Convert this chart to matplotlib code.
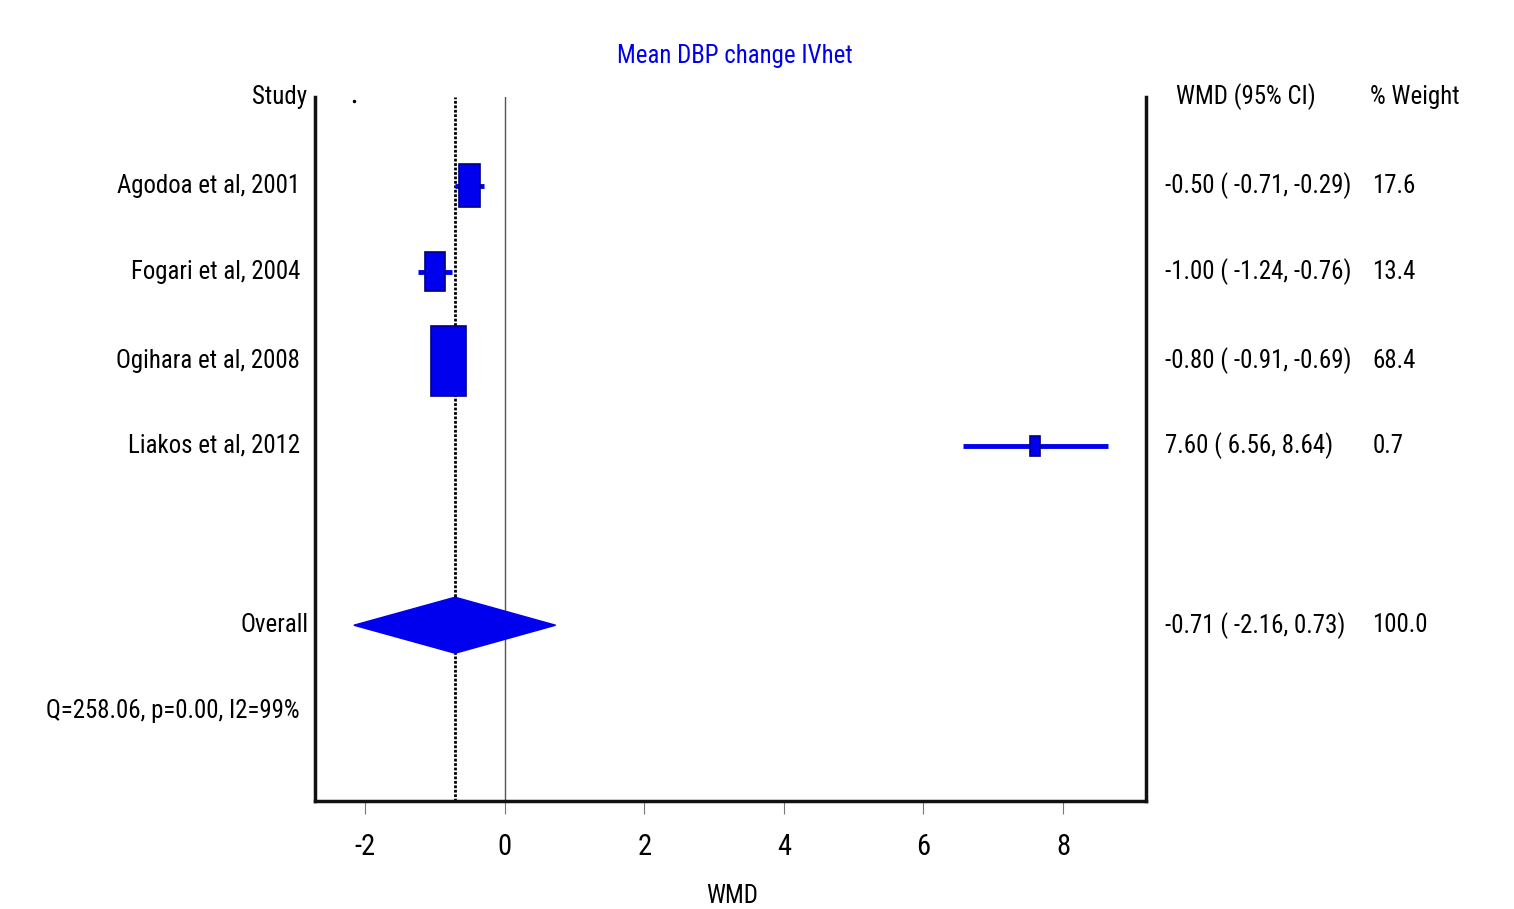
#!/usr/bin/env python3

import matplotlib
matplotlib.use('Agg')
from matplotlib import pyplot as plt
from matplotlib import font_manager
from matplotlib.patches import Rectangle, Polygon
import matplotlib.transforms as mtransforms

STUDIES = ['Agodoa et al, 2001', 'Fogari et al, 2004', 'Ogihara et al, 2008', 'Liakos et al, 2012']
WMD = [-0.50, -1.00, -0.80, 7.60]
LOWER = [-0.71, -1.24, -0.91, 6.56]
UPPER = [-0.29, -0.76, -0.69, 8.64]
WEIGHT = [17.6, 13.4, 68.4, 0.7]

OVERALL = -0.71
OVERALL_LOWER = -2.16
OVERALL_UPPER = 0.73
OVERALL_WEIGHT = 100.0
HET_TEXT = 'Q=258.06, p=0.00, I2=99%'

XTICKS = [-2, 0, 2, 4, 6, 8]

BLUE = '#0000ee'
PX_PER_UNIT_X = 69.8  # pixels per WMD unit
PX_PER_ROW = 87.0

# the reference uses a narrow font; take the narrowest one that is installed
families = {f.name for f in font_manager.fontManager.ttflist}
stretches = {(f.name, f.stretch) for f in font_manager.fontManager.ttflist}
FONT = 'Liberation Sans'
STRETCH = 'normal'
for name in ['Liberation Sans Narrow', 'Roboto Condensed', 'Open Sans Condensed',
             'Noto Sans Condensed', 'DejaVu Sans Condensed']:
    if name in families:
        FONT = name
        break
else:
    for name in ['Roboto', 'Noto Sans', 'Open Sans', 'DejaVu Sans']:
        if (name, 'condensed') in stretches or (name, 'semi-condensed') in stretches:
            FONT = name
            STRETCH = 'condensed'
            break
plt.rcParams['font.family'] = [FONT, 'DejaVu Sans']
plt.rcParams['font.stretch'] = STRETCH

fig = plt.figure(figsize=(15.14, 9.09), dpi=100)

# size the text so that a study label is about as wide as in the reference
probe = fig.text(0, 0, STUDIES[0], fontsize=20)
w = probe.get_window_extent(renderer=fig.canvas.get_renderer()).width
probe.remove()
fs = 20 * 167.0 / w * 1.1

ax = fig.add_axes([0.2081, 0.1188, 0.5489, 0.7745])
ax.set_xlim(-2.716, 9.19)
ax.set_ylim(8.09, 0)

rows = [1.02, 2.01, 3.03, 4.01]
overall_row = 6.07
het_row = 7.06

# reference lines
ax.axvline(0, color='#555555', lw=1.0, zorder=1)
ax.axvline(OVERALL, color='black', lw=2.0, ls=(0, (1, 0.6)), zorder=1)

for r, m, lo, hi, wt in zip(rows, WMD, LOWER, UPPER, WEIGHT):
    ax.plot([lo, hi], [r, r], color=BLUE, lw=3.5, solid_capstyle='butt', zorder=3)
    wpx = 7.2 + 3.37 * wt ** 0.5
    hw = wpx / PX_PER_UNIT_X / 2
    hh = wpx / PX_PER_ROW
    ax.add_patch(Rectangle((m - hw, r - hh), 2 * hw, 2 * hh, facecolor=BLUE,
                           edgecolor='#000080', lw=1.2, zorder=4))

dh = 28 / PX_PER_ROW
ax.add_patch(Polygon([(OVERALL_LOWER, overall_row), (OVERALL, overall_row - dh),
                      (OVERALL_UPPER, overall_row), (OVERALL, overall_row + dh)],
                     closed=True, facecolor=BLUE, edgecolor=BLUE, zorder=4))
ax.plot([OVERALL_LOWER], [0.05], marker='.', color='black', ms=3)

ax.spines['top'].set_visible(False)
for s in ['left', 'right', 'bottom']:
    ax.spines[s].set_linewidth(2.5)
    ax.spines[s].set_color('#111111')

ax.set_yticks([])
ax.set_xticks(XTICKS)
ax.set_xticklabels([str(t) for t in XTICKS], fontsize=fs * 1.15)
ax.tick_params(axis='x', length=9, width=0.8, color='#777777', pad=14)

trans = mtransforms.blended_transform_factory(ax.transAxes, ax.transData)
ax.text(-0.009, 0, 'Study', transform=trans, ha='right', va='center', fontsize=fs)
for r, name in zip(rows, STUDIES):
    ax.text(-0.018, r, name, transform=trans, ha='right', va='center', fontsize=fs)
ax.text(-0.008, overall_row, 'Overall', transform=trans, ha='right', va='center', fontsize=fs)
ax.text(-0.018, het_row, HET_TEXT, transform=trans, ha='right', va='center', fontsize=fs)

ax.text(1.036, 0, 'WMD (95% CI)', transform=trans, ha='left', va='center', fontsize=fs)
ax.text(1.27, 0, '% Weight', transform=trans, ha='left', va='center', fontsize=fs)
for r, m, lo, hi, wt in zip(rows, WMD, LOWER, UPPER, WEIGHT):
    ax.text(1.023, r, f'{m:.2f} ( {lo:.2f}, {hi:.2f})', transform=trans,
            ha='left', va='center', fontsize=fs)
    ax.text(1.272, r, f'{wt:.1f}', transform=trans, ha='left', va='center', fontsize=fs)
ax.text(1.023, overall_row, f'{OVERALL:.2f} ( {OVERALL_LOWER:.2f}, {OVERALL_UPPER:.2f})',
        transform=trans, ha='left', va='center', fontsize=fs)
ax.text(1.272, overall_row, f'{OVERALL_WEIGHT:.1f}', transform=trans, ha='left',
        va='center', fontsize=fs)

fig.text(0.4855, 0.938, 'Mean DBP change IVhet', color=BLUE, ha='center', va='center', fontsize=fs)
fig.text(0.4835, 0.014, 'WMD', ha='center', va='center', fontsize=fs)

fig.savefig('out.png', dpi=100)
